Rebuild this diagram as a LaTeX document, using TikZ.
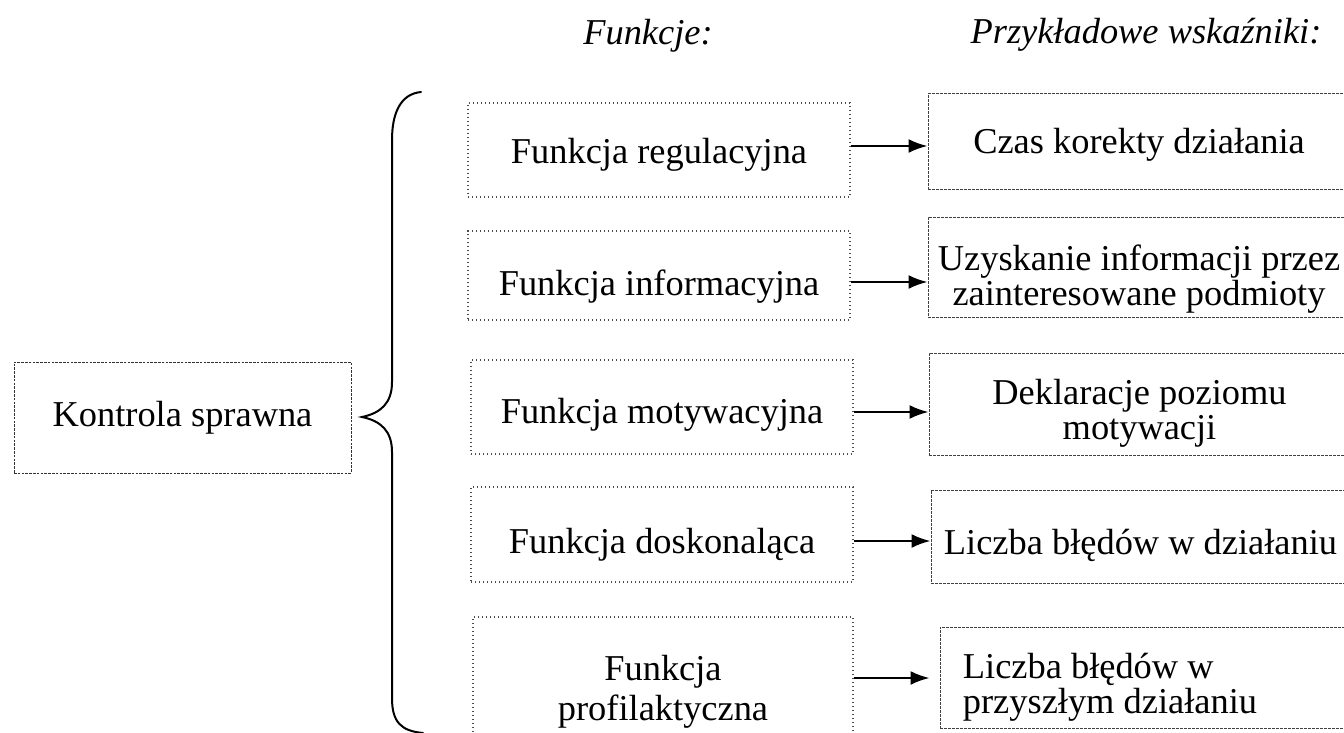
\documentclass[tikz,border=0pt]{standalone}
\usepackage{fontspec}
\setmainfont{Liberation Serif}
\usetikzlibrary{arrows.meta}
\begin{document}
\begin{tikzpicture}[x=0.5pt,y=-0.5pt,
  txt/.style={font=\fontsize{18.2}{17.5}\selectfont, align=center, inner sep=0pt},
  head/.style={font=\fontsize{18.2}{20}\selectfont\itshape, anchor=base, inner sep=0pt},
  rootbox/.style={txt, draw=black!80, line width=0.5pt, dash pattern=on 1.3pt off 0.6pt},
  funbox/.style={draw=black!70, line width=0.6pt, dash pattern=on 0.6pt off 1.4pt, inner sep=0pt},
  indbox/.style={draw=black!75, line width=0.5pt, dash pattern=on 1.3pt off 0.7pt, inner sep=0pt},
  arrow/.style={line width=1.1pt, -{Latex[length=9.5pt,width=7pt]}},
  brace/.style={line width=1pt, line cap=round}]
\useasboundingbox (0,0) rectangle (1344,733);
\clip (0,0) rectangle (1344,733);

% column headings
\node[head] (h1) at (648,45) {Funkcje:};
\node[head] (h2) at (1146,44) {Przykładowe wskaźniki:};

% root
\node[rootbox, minimum width=168.5pt, minimum height=55.5pt] (k) at (182.5,417.5) {Kontrola sprawna};

% curly brace
\coordinate (btop) at (421,92);
\coordinate (btip) at (362,417);
\coordinate (bbot) at (423,733);
\draw[brace] (btop) .. controls (400,94) and (392,114) .. (392,140)
  -- (392,382) .. controls (392,403) and (381,413) .. (btip)
  .. controls (381,421) and (392,431) .. (392,452)
  -- (392,698) .. controls (392,722) and (401,731) .. (bbot);

% function boxes
\node[funbox, minimum width=191pt, minimum height=47pt]   (m1) at (659,150)   {};
\node[funbox, minimum width=191pt, minimum height=44.5pt] (m2) at (659,275.5) {};
\node[funbox, minimum width=191pt, minimum height=47pt]   (m3) at (662,407)   {};
\node[funbox, minimum width=191pt, minimum height=47.5pt] (m4) at (662,534.5) {};
\node[funbox, minimum width=190pt, minimum height=73pt]   (m5) at (663,690)   {};
\node[txt] (m1t) at ([yshift=-2.5pt]m1.center) {Funkcja regulacyjna};
\node[txt] (m2t) at ([yshift=-5.5pt]m2.center) {Funkcja informacyjna};
\node[txt] (m3t) at ([yshift=-4pt]m3.center) {Funkcja motywacyjna};
\node[txt] (m4t) at ([yshift=-5pt]m4.center) {Funkcja doskonaląca};
\node[txt, font=\fontsize{18.2}{20}\selectfont] (m5t) at ([yshift=-1pt]m5.center) {Funkcja\\profilaktyczna};

% indicator boxes
\node[indbox, minimum width=211pt, minimum height=47.5pt]   (r1) at (1139,141.5)  {};
\node[indbox, minimum width=211pt, minimum height=50pt]     (r2) at (1139,267)    {};
\node[indbox, minimum width=210.5pt, minimum height=51pt]   (r3) at (1139.5,404)  {};
\node[indbox, minimum width=209.5pt, minimum height=46.5pt] (r4) at (1140.5,536.5) {};
\node[indbox, minimum width=205pt, minimum height=50.5pt]   (r5) at (1145,677.5)  {};
\node[txt] (r1t) at ([yshift=-1.5pt]r1.center) {Czas korekty działania};
\node[txt] (r2t) at ([yshift=-6pt]r2.center) {Uzyskanie informacji przez\\zainteresowane podmioty};
\node[txt] (r3t) at ([yshift=-4.5pt]r3.center) {Deklaracje poziomu\\motywacji};
\node[txt] (r4t) at ([yshift=-4.5pt]r4.center) {Liczba błędów w działaniu};
\node[txt, align=left, anchor=west] (r5t) at ([xshift=11.5pt,yshift=-5pt]r5.west) {Liczba błędów w\\przyszłym działaniu};

% connectors
\draw[arrow] (m1.east |- 0,146) -- (r1.west |- 0,146);
\draw[arrow] (m2.east |- 0,282) -- (r2.west |- 0,282);
\draw[arrow] (m3.east |- 0,412) -- (r3.west |- 0,412);
\draw[arrow] (m4.east |- 0,541) -- (r4.west |- 0,541);
\draw[arrow, shorten >=5pt] (m5.east |- 0,678) -- (r5.west |- 0,678);
\end{tikzpicture}
\end{document}
